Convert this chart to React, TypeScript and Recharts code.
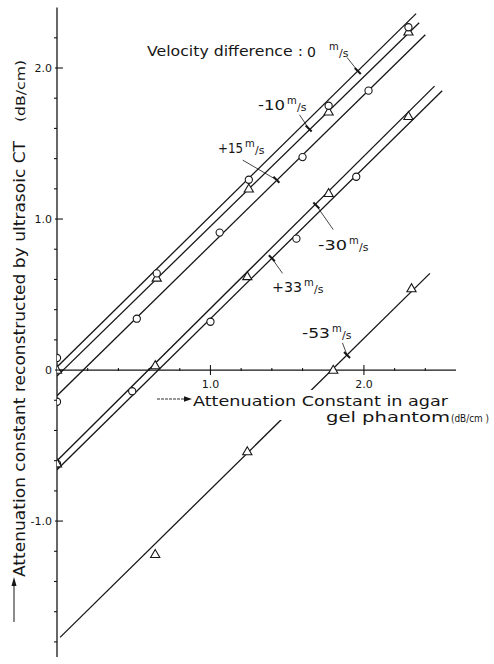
import React from 'react';
import {
  ComposedChart,
  Line,
  Scatter,
  XAxis,
  YAxis,
  ReferenceLine,
  ReferenceDot,
} from 'recharts';

const W = 494;
const H = 664;
const INK = '#161616';
const FONT = '"DejaVu Sans", "Liberation Sans", sans-serif';

// fitted straight lines, end points
// x = attenuation constant in agar phantom, y = value reconstructed by CT
const fit0 = [{ x: 0, y: 0.02 }, { x: 2.34, y: 2.36 }];
const fitMinus10 = [{ x: 0, y: -0.04 }, { x: 2.36, y: 2.3 }];
const fitPlus15 = [{ x: 0, y: -0.17 }, { x: 2.4, y: 2.22 }];
const fitMinus30 = [{ x: 0, y: -0.6 }, { x: 2.46, y: 1.88 }];
const fitPlus33 = [{ x: 0, y: -0.66 }, { x: 2.51, y: 1.85 }];
const fitMinus53 = [{ x: 0.02, y: -1.77 }, { x: 2.43, y: 0.64 }];

// measured points
const upperCircles = [
  { x: 0, y: 0.08 },
  { x: 0.65, y: 0.64 },
  { x: 1.25, y: 1.26 },
  { x: 1.77, y: 1.75 },
  { x: 2.29, y: 2.27 },
];
const upperTriangles = [
  { x: 0, y: 0.0 },
  { x: 0.65, y: 0.61 },
  { x: 1.25, y: 1.2 },
  { x: 1.77, y: 1.71 },
  { x: 2.29, y: 2.24 },
];
const plus15Circles = [
  { x: 0, y: -0.21 },
  { x: 0.52, y: 0.34 },
  { x: 1.06, y: 0.91 },
  { x: 1.6, y: 1.41 },
  { x: 2.03, y: 1.85 },
];
const lowerCircles = [
  { x: 0, y: -0.62 },
  { x: 0.49, y: -0.14 },
  { x: 1.0, y: 0.32 },
  { x: 1.56, y: 0.87 },
  { x: 1.95, y: 1.28 },
];
const lowerTriangles = [
  { x: 0, y: -0.62 },
  { x: 0.64, y: 0.03 },
  { x: 1.24, y: 0.62 },
  { x: 1.77, y: 1.17 },
  { x: 2.29, y: 1.68 },
];
const minus53Triangles = [
  { x: 0.64, y: -1.22 },
  { x: 1.24, y: -0.54 },
  { x: 1.8, y: 0.0 },
  { x: 2.31, y: 0.54 },
];

// axis ticks
const yTicks = [
  -1.8, -1.6, -1.4, -1.2, -1.0, -0.8, -0.6, -0.4, -0.2, 0, 0.2, 0.4, 0.6, 0.8,
  1.0, 1.2, 1.4, 1.6, 1.8, 2.0, 2.2,
];
const yTickLabels: Record<string, string> = { '-1': '-1.0', '0': '0', '1': '1.0', '2': '2.0' };
const xTicks = [0.2, 0.4, 0.6, 0.8, 1.0, 1.2, 1.4, 1.6, 1.8, 2.0, 2.2, 2.4];
const xTickLabels: Record<string, string> = { '1': '1.0', '2': '2.0' };

// leader lines from the velocity labels to their fitted line
const pointers = [
  { from: { x: 1.89, y: 2.07 }, to: { x: 1.96, y: 1.98 } },
  { from: { x: 1.58, y: 1.69 }, to: { x: 1.64, y: 1.6 } },
  { from: { x: 1.21, y: 1.39 }, to: { x: 1.43, y: 1.26 } },
  { from: { x: 1.8, y: 0.93 }, to: { x: 1.69, y: 1.09 } },
  { from: { x: 1.47, y: 0.64 }, to: { x: 1.4, y: 0.74 } },
  { from: { x: 1.86, y: 0.18 }, to: { x: 1.89, y: 0.1 } },
];

const fits = [fit0, fitMinus10, fitPlus15, fitMinus30, fitPlus33, fitMinus53];

function isMajor(v: number): boolean {
  return Math.abs(v - Math.round(v)) < 1e-6;
}

function YTick({ x, y, payload }: any) {
  const v = payload.value as number;
  const major = isMajor(v);
  const label = major ? yTickLabels[String(Math.round(v))] : undefined;
  return (
    <g>
      <line
        x1={major ? x - 2 : x - 3}
        x2={major ? x + 6 : x}
        y1={y}
        y2={y}
        stroke={INK}
        strokeWidth={1.1}
      />
      {label && (
        <text
          x={x - 5}
          y={y}
          textAnchor="end"
          dominantBaseline="central"
          fontSize={11}
          fontFamily={FONT}
          fill={INK}
        >
          {label}
        </text>
      )}
    </g>
  );
}

function xTickShape(v: number) {
  return ({ cx, cy }: any) => {
    const major = isMajor(v);
    const label = major ? xTickLabels[String(Math.round(v))] : undefined;
    return (
      <g>
        <line
          x1={cx}
          x2={cx}
          y1={major ? cy - 5 : cy - 2}
          y2={major ? cy + 5 : cy + 1}
          stroke={INK}
          strokeWidth={1.1}
        />
        {label && (
          <text
            x={cx}
            y={cy + 18}
            textAnchor="middle"
            fontSize={11}
            fontFamily={FONT}
            fill={INK}
          >
            {label}
          </text>
        )}
      </g>
    );
  };
}

function CircleMark({ cx, cy }: any) {
  if (cx == null || cy == null) return null;
  return <circle cx={cx} cy={cy} r={3.6} fill="#fff" stroke={INK} strokeWidth={1.1} />;
}

function TriangleMark({ cx, cy }: any) {
  if (cx == null || cy == null) return null;
  const pts = `${cx},${cy - 4.8} ${cx - 4.6},${cy + 3.2} ${cx + 4.6},${cy + 3.2}`;
  return <polygon points={pts} fill="#fff" stroke={INK} strokeWidth={1.1} />;
}

function BarMark({ cx, cy }: any) {
  return (
    <line x1={cx - 3} y1={cy - 3} x2={cx + 3} y2={cy + 3} stroke={INK} strokeWidth={2} />
  );
}

/**
 * "-10 m/s" style label: number, then a raised "m" and "/s"
 */
function SpeedLabel({ x, y, num, numW }: { x: number; y: number; num: string; numW: number }) {
  return (
    <g fontFamily={FONT} fill={INK}>
      <text x={x} y={y} fontSize={14} textLength={numW} lengthAdjust="spacingAndGlyphs">
        {num}
      </text>
      <text x={x + numW + 2} y={y - 6} fontSize={10}>
        m
      </text>
      <text x={x + numW + 12} y={y + 1} fontSize={11}>
        /s
      </text>
    </g>
  );
}

function Overlay() {
  return (
    <svg
      width={W}
      height={H}
      style={{ position: 'absolute', left: 0, top: 0, pointerEvents: 'none' }}
    >
      {/* y axis title */}
      <line x1={14} y1={622} x2={14} y2={584} stroke={INK} strokeWidth={1} />
      <polygon points="14,577 11.5,586 16.5,586" fill={INK} />
      <text
        transform="translate(25,577) rotate(-90)"
        fontSize={15}
        fontFamily={FONT}
        fill={INK}
        textLength={436}
        lengthAdjust="spacingAndGlyphs"
      >
        Attenuation constant reconstructed by ultrasoic CT
      </text>
      <text
        transform="translate(25,122) rotate(-90)"
        fontSize={12}
        fontFamily={FONT}
        fill={INK}
        textLength={62}
        lengthAdjust="spacingAndGlyphs"
      >
        (dB/cm)
      </text>

      {/* x axis title, on a white box that cuts the -53 line */}
      <rect x={190} y={390} width={262} height={30} fill="#fff" />
      <line x1={157} y1={399} x2={185} y2={399} stroke={INK} strokeWidth={0.9} strokeDasharray="3 1" />
      <polygon points="192,399 184,396.3 184,401.7" fill={INK} />
      <text
        x={193}
        y={406}
        fontSize={14}
        fontFamily={FONT}
        fill={INK}
        textLength={255}
        lengthAdjust="spacingAndGlyphs"
      >
        Attenuation Constant in agar
      </text>
      <text
        x={326}
        y={422}
        fontSize={14}
        fontFamily={FONT}
        fill={INK}
        textLength={124}
        lengthAdjust="spacingAndGlyphs"
      >
        gel phantom
      </text>
      <text
        x={451}
        y={422}
        fontSize={11}
        fontFamily={FONT}
        fill={INK}
        textLength={38}
        lengthAdjust="spacingAndGlyphs"
      >
        (dB/cm )
      </text>

      {/* velocity difference labels */}
      <g fontFamily={FONT} fill={INK}>
        <text x={147} y={56} fontSize={13.5} textLength={156} lengthAdjust="spacingAndGlyphs">
          Velocity difference :
        </text>
        <text x={307} y={57} fontSize={14}>
          0
        </text>
        <text x={329} y={50} fontSize={10}>
          m
        </text>
        <text x={339} y={57} fontSize={11}>
          /s
        </text>
      </g>
      <SpeedLabel x={258} y={110} num="-10" numW={27} />
      <SpeedLabel x={218} y={153} num="+15" numW={25} />
      <SpeedLabel x={318} y={250} num="-30" numW={29} />
      <SpeedLabel x={272} y={292} num="+33" numW={30} />
      <SpeedLabel x={302} y={338} num="-53" numW={28} />
    </svg>
  );
}

export default function App(): React.ReactElement {
  return (
    <div
      style={{ position: 'absolute', left: 0, top: 0, width: W, height: H, background: '#fff' }}
    >
      <ComposedChart
        width={W}
        height={H}
        margin={{ top: 7.6, right: 38, bottom: 7, left: 0 }}
      >
        <XAxis type="number" dataKey="x" domain={[0, 2.6]} allowDataOverflow hide />
        <YAxis
          type="number"
          dataKey="y"
          domain={[-1.9, 2.4]}
          allowDataOverflow
          ticks={yTicks}
          interval={0}
          tick={<YTick />}
          tickLine={false}
          tickSize={0}
          tickMargin={0}
          width={57}
          axisLine={{ stroke: INK, strokeWidth: 1.3 }}
        />
        <ReferenceLine y={0} stroke={INK} strokeWidth={1.3} />
        {xTicks.map((v) => (
          <ReferenceDot key={`xt${v}`} x={v} y={0} r={0} shape={xTickShape(v)} />
        ))}

        {fits.map((f, i) => (
          <Line
            key={`fit${i}`}
            data={f}
            dataKey="y"
            type="linear"
            stroke={INK}
            strokeWidth={1.3}
            dot={false}
            activeDot={false}
            isAnimationActive={false}
          />
        ))}

        {pointers.map((p, i) => (
          <ReferenceLine
            key={`ptr${i}`}
            segment={[p.from, p.to]}
            stroke={INK}
            strokeWidth={0.8}
          />
        ))}
        {pointers.map((p, i) => (
          <ReferenceDot key={`bar${i}`} x={p.to.x} y={p.to.y} r={0} shape={BarMark} />
        ))}

        <Scatter data={upperTriangles} dataKey="y" shape={TriangleMark} isAnimationActive={false} />
        <Scatter data={upperCircles} dataKey="y" shape={CircleMark} isAnimationActive={false} />
        <Scatter data={plus15Circles} dataKey="y" shape={CircleMark} isAnimationActive={false} />
        <Scatter data={lowerCircles} dataKey="y" shape={CircleMark} isAnimationActive={false} />
        <Scatter data={lowerTriangles} dataKey="y" shape={TriangleMark} isAnimationActive={false} />
        <Scatter data={minus53Triangles} dataKey="y" shape={TriangleMark} isAnimationActive={false} />
      </ComposedChart>
      <Overlay />
    </div>
  );
}
